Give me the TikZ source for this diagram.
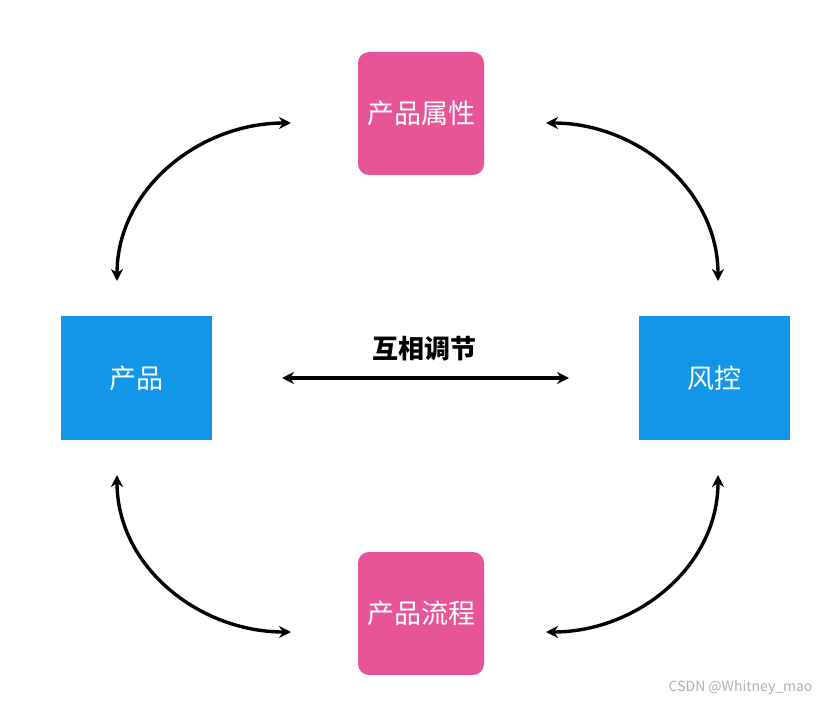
\documentclass[tikz,border=0pt]{standalone}
\usepackage{fontspec}
\newfontfamily\cjk{Noto Sans CJK SC}
\usetikzlibrary{arrows.meta}
\definecolor{pinkbox}{RGB}{232,84,152}
\definecolor{bluebox}{RGB}{18,150,234}
\definecolor{wm}{RGB}{175,175,175}
\tikzset{
  pinknode/.style={fill=pinkbox, rounded corners=11pt, minimum width=126pt, minimum height=123pt, inner sep=0pt, text=white, font=\cjk\fontsize{27}{30}\selectfont},
  bluenode/.style={fill=bluebox, minimum width=151pt, minimum height=124pt, inner sep=0pt, text=white, font=\cjk\fontsize{27}{30}\selectfont},
  conn/.style={line width=3.4pt, {Stealth[length=12pt,width=12pt]}-{Stealth[length=12pt,width=12pt]}}
}
\begin{document}
\begin{tikzpicture}[x=1pt,y=-1pt]
\useasboundingbox[fill=white] (0,0) rectangle (827,703);
\node[pinknode] (attr) at (421,113.5) {产品属性};
\node[pinknode] (flow) at (421,613.5) {产品流程};
\node[bluenode] (prod) at (136.5,378) {产品};
\node[bluenode] (risk) at (714,378) {风控};
\coordinate (tl1) at (117,281);
\coordinate (tl2) at (291,123);
\coordinate (tr1) at (546,123);
\coordinate (tr2) at (718,281);
\coordinate (bl1) at (117,475);
\coordinate (bl2) at (291,632);
\coordinate (br1) at (546,632);
\coordinate (br2) at (718,475);
\coordinate (ml) at (282,378);
\coordinate (mr) at (569,378);
\draw[conn] (tl1) to[out=90,in=180] (tl2);
\draw[conn] (tr1) to[out=0,in=90] (tr2);
\draw[conn] (bl1) to[out=-90,in=180] (bl2);
\draw[conn] (br1) to[out=0,in=-90] (br2);
\draw[conn] (ml) -- (mr);
\node[font=\cjk\bfseries\fontsize{26}{30}\selectfont] (mid) at (424,349) {互相调节};
\node[font=\cjk\fontsize{14}{16}\selectfont, text=wm, anchor=east] (wmk) at (816,688) {CSDN @Whitney\_mao};
\end{tikzpicture}
\end{document}
